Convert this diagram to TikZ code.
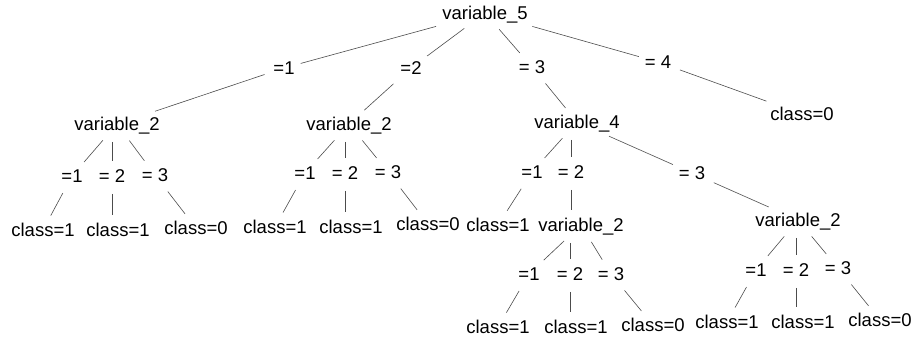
\documentclass[tikz,border=0pt]{standalone}
\usepackage{fontspec}
\setmainfont{Liberation Sans}
\begin{document}
\begin{tikzpicture}[x=1pt,y=-1pt,
  lbl/.style={font=\fontsize{18.5}{20}\selectfont, text height=13.2pt, text depth=0pt, inner xsep=3pt, inner ysep=5pt},
  edge/.style={draw=black!70, line width=0.6pt, shorten <=6pt, shorten >=3pt}]
\useasboundingbox (0,0) rectangle (916,341);
% level 0
\node[lbl] (root) at (485,13) {variable\_5};
\node[lbl] (l1) at (284,68) {=1};
\node[lbl] (l2) at (411,68) {=2};
\node[lbl] (l3) at (532,67) {= 3};
\node[lbl] (l4) at (658,62) {= 4};
\node[lbl] (c4) at (802,114) {class=0};
\node[lbl] (va) at (117,124) {variable\_2};
\node[lbl] (vb) at (349,124) {variable\_2};
\node[lbl] (v4) at (577,122) {variable\_4};
% subtree a
\node[lbl] (a1) at (72,176) {=1};
\node[lbl] (a2) at (112,176) {= 2};
\node[lbl] (a3) at (155,175) {= 3};
\node[lbl] (aL1) at (43,230) {class=1};
\node[lbl] (aL2) at (118,230) {class=1};
\node[lbl] (aL3) at (196,228) {class=0};
% subtree b
\node[lbl] (b1) at (305,173) {=1};
\node[lbl] (b2) at (345,173) {= 2};
\node[lbl] (b3) at (388,172) {= 3};
\node[lbl] (bL1) at (275,227) {class=1};
\node[lbl] (bL2) at (351,227) {class=1};
\node[lbl] (bL3) at (428,224) {class=0};
% subtree variable_4
\node[lbl] (d1) at (532,172) {=1};
\node[lbl] (d2) at (571,172) {= 2};
\node[lbl] (d3) at (692,173) {= 3};
\node[lbl] (dL1) at (498,225) {class=1};
\node[lbl] (vc) at (581,225) {variable\_2};
\node[lbl] (vd) at (798,220) {variable\_2};
% subtree c
\node[lbl] (e1) at (529,274) {=1};
\node[lbl] (e2) at (570,274) {= 2};
\node[lbl] (e3) at (611,274) {= 3};
\node[lbl] (eL1) at (498,327) {class=1};
\node[lbl] (eL2) at (576,327) {class=1};
\node[lbl] (eL3) at (653,325) {class=0};
% subtree d
\node[lbl] (f1) at (756,270) {=1};
\node[lbl] (f2) at (796,270) {= 2};
\node[lbl] (f3) at (838,268) {= 3};
\node[lbl] (fL1) at (727,322) {class=1};
\node[lbl] (fL2) at (803,322) {class=1};
\node[lbl] (fL3) at (880,320) {class=0};
% slanted edges
\foreach \p/\c in {root/l1,root/l2,root/l3,root/l4,l1/va,l2/vb,l3/v4,l4/c4,
  va/a1,va/a3,a1/aL1,a3/aL3,
  vb/b1,vb/b3,b1/bL1,b3/bL3,
  v4/d1,v4/d3,d1/dL1,d3/vd,
  vc/e1,vc/e3,e1/eL1,e3/eL3,
  vd/f1,vd/f3,f1/fL1,f3/fL3}
  \draw[edge] (\p) -- (\c);
% vertical edges
\foreach \p/\m/\c in {va/a2/aL2, vb/b2/bL2, v4/d2/vc, vc/e2/eL2, vd/f2/fL2}{
  \draw[edge] (\m |- \p.south) -- (\m.north);
  \draw[edge] (\m.south) -- (\m |- \c.north);
}
\end{tikzpicture}
\end{document}
